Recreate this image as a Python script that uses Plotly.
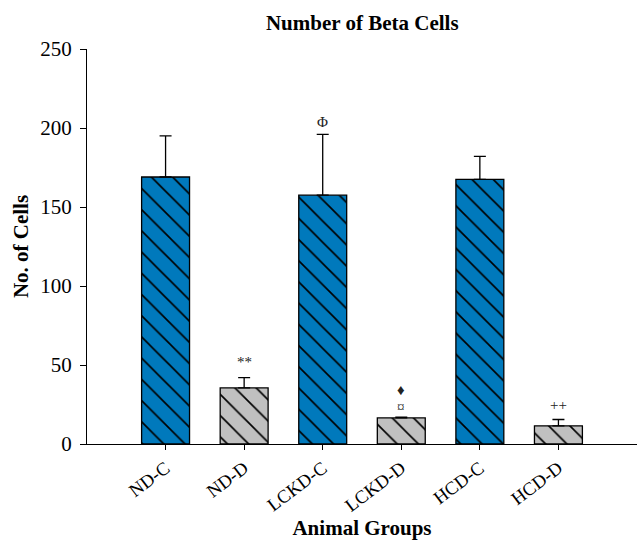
import plotly.graph_objects as go

# Beta cell counts per animal group (mean and SD)
groups = ["ND-C", "ND-D", "LCKD-C", "LCKD-D", "HCD-C", "HCD-D"]
means = [169, 35.5, 157.5, 16.5, 167.5, 11.5]
sds = [26, 6.5, 38.5, 0.5, 14.5, 4]
is_control = [True, False, True, False, True, False]
control_color = "#0079BC"
diabetic_color = "#C0C0C0"

# Significance markers placed above the groups
mark_groups = ["ND-D", "LCKD-C", "LCKD-D", "LCKD-D", "HCD-D"]
mark_texts = ["**", "Φ", "♦", "¤", "++"]
mark_y = [52, 204, 34, 23.5, 24.5]

serif = "Liberation Serif, Times New Roman, serif"

fig = go.Figure()
for ctrl, color in [(True, control_color), (False, diabetic_color)]:
    idx = [i for i, c in enumerate(is_control) if c == ctrl]
    fig.add_trace(go.Bar(
        x=[groups[i] for i in idx],
        y=[means[i] for i in idx],
        width=0.61,
        marker=dict(
            color=color,
            line=dict(color="black", width=1.3),
            pattern=dict(shape="\\", size=15, solidity=0.11,
                         fgcolor="black", fgopacity=1, fillmode="overlay"),
        ),
        error_y=dict(type="data", symmetric=False,
                     array=[sds[i] for i in idx],
                     arrayminus=[0] * len(idx),
                     color="black", thickness=1.3, width=6),
        showlegend=False,
    ))

for g, t, yv in zip(mark_groups, mark_texts, mark_y):
    fig.add_annotation(x=g, y=yv, text=t, showarrow=False,
                       font=dict(family=serif, size=15, color="#222222"))

fig.update_layout(
    width=644, height=540,
    barmode="overlay",
    margin=dict(l=87, r=7, t=49, b=96),
    plot_bgcolor="white", paper_bgcolor="white",
    font=dict(family=serif, color="black"),
    title=dict(text="<b>Number of Beta Cells</b>", x=0.5625, xanchor="center",
               y=0.958, yanchor="middle", font=dict(size=21, family=serif)),
    xaxis=dict(
        categoryorder="array", categoryarray=groups,
        range=[-1, 6], showline=True, linecolor="black", linewidth=1.3,
        ticks="outside", ticklen=5, tickwidth=1.3, tickcolor="black",
        tickangle=-37, tickfont=dict(size=18.5, family=serif),
        title=dict(text="<b>Animal Groups</b>", font=dict(size=21, family=serif),
                   standoff=12),
        showgrid=False, zeroline=False, automargin=False,
    ),
    yaxis=dict(
        range=[0, 250], tickvals=[0, 50, 100, 150, 200, 250],
        showline=True, linecolor="black", linewidth=1.3,
        ticks="outside", ticklen=6, tickwidth=1.3, tickcolor="black",
        ticklabelstandoff=4,
        tickfont=dict(size=21, family=serif),
        title=dict(text="<b>No. of Cells</b>", font=dict(size=21, family=serif),
                   standoff=5),
        showgrid=False, zeroline=False, automargin=False,
    ),
)

fig.write_html("out.html")
